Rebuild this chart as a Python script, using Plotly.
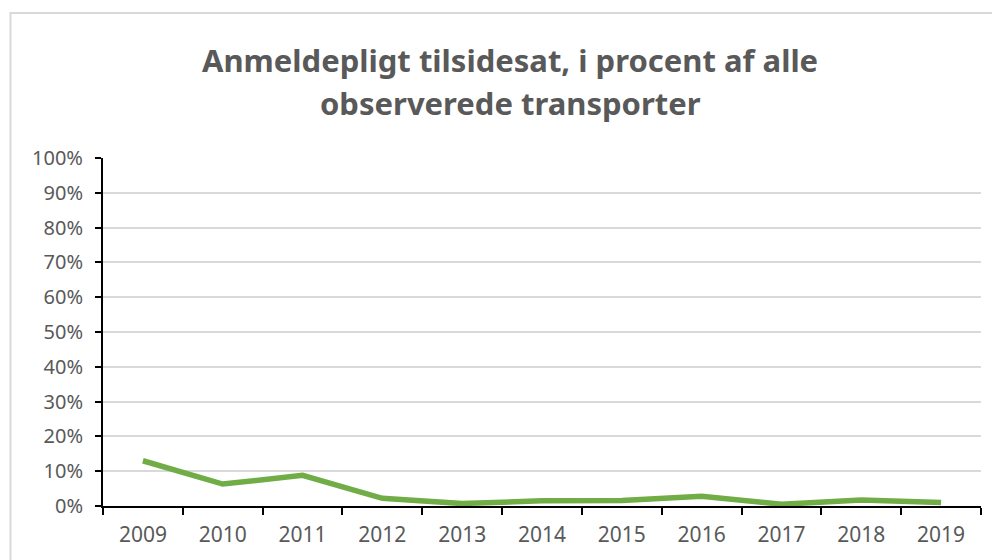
import plotly.graph_objects as go

years = ["2009", "2010", "2011", "2012", "2013", "2014", "2015", "2016", "2017", "2018", "2019"]
values = [0.130, 0.063, 0.088, 0.022, 0.007, 0.015, 0.016, 0.028, 0.005, 0.017, 0.010]
title_lines = ["Anmeldepligt tilsidesat, i procent af alle", "observerede transporter"]

W, H = 1000, 560
OFF = 8  # page body margin
L, R, T, B = 103 - OFF, 19 + OFF, 158 - OFF, 54 + OFF

fig = go.Figure()
fig.add_trace(go.Scatter(
    x=years, y=values, mode="lines",
    line=dict(color="#70AD47", width=5.5),
    hoverinfo="x+y",
))

pw = W - L - R
ph = H - T - B
fig.add_shape(
    type="rect", xref="paper", yref="paper",
    x0=(10.5 - OFF - L) / pw, x1=(1010 - L) / pw,
    y0=-(600 - (H - B)) / ph, y1=1 + (T - (13 - OFF)) / ph,
    line=dict(color="#D9D9D9", width=2), fillcolor="rgba(0,0,0,0)", layer="below",
)

for line, yc in zip(title_lines, [60, 103]):
    fig.add_annotation(
        text=f"<b>{line}</b>", xref="paper", yref="paper",
        x=(510 - OFF - L) / pw, y=1 + (T - (yc - OFF)) / ph, xanchor="center", yanchor="middle",
        showarrow=False,
        font=dict(family="Noto Sans", size=31, color="#595959"),
    )

fig.update_layout(
    width=W, height=H,
    margin=dict(l=L, r=R, t=T, b=B, pad=0),
    paper_bgcolor="white", plot_bgcolor="white",
    showlegend=False,
    font=dict(family="Noto Sans", size=20, color="#595959"),
)
fig.update_xaxes(
    type="category", range=[-0.5, 10.5], tickson="boundaries", ticks="outside", ticklen=7,
    tickcolor="black", tickwidth=2, showline=True, linecolor="black", linewidth=2,
    showgrid=False, tickfont=dict(size=21, color="#595959"), ticklabelstandoff=9,
    automargin=False,
)
fig.update_yaxes(
    range=[0, 1], dtick=0.1, tickformat=".0%", ticks="outside", ticklen=6,
    tickcolor="black", tickwidth=2, showline=True, linecolor="black", linewidth=2,
    gridcolor="#D9D9D9", gridwidth=1.5, zeroline=False,
    tickfont=dict(size=20, color="#595959"), ticklabelstandoff=8,
    automargin=False,
)

fig.write_html("out.html")
